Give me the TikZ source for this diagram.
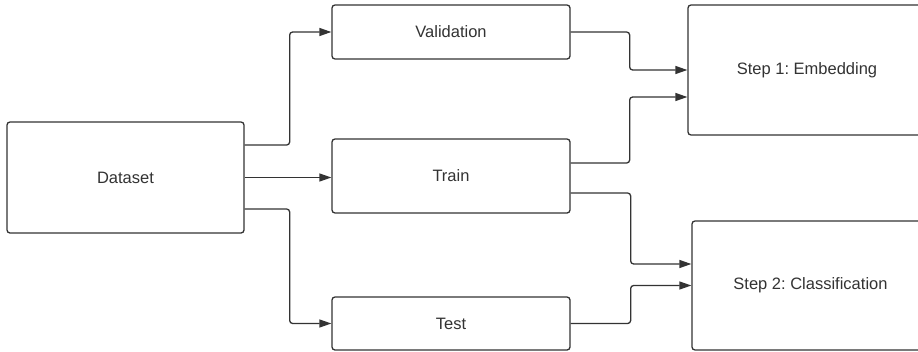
\documentclass[tikz,border=0pt]{standalone}
\usepackage{fontspec}
\setmainfont{Liberation Sans}
\usetikzlibrary{arrows.meta,calc}
\definecolor{linec}{HTML}{333333}
\frenchspacing
\begin{document}
\begin{tikzpicture}[x=1pt,y=-1pt,
  box/.style={draw=linec, line width=1.3pt, rounded corners=3pt, fill=white,
    font=\fontsize{16.5}{19}\selectfont, text=linec, inner sep=0pt},
  conn/.style={draw=linec, line width=1.3pt, rounded corners=3pt,
    -{Triangle[length=12pt,width=8pt]}}]
\clip (0,0) rectangle (918,351);
\useasboundingbox (0,0) rectangle (918,351);
\node[box, minimum width=237pt, minimum height=111pt] (dataset) at (125.5,177.5) {Dataset};
\node[box, minimum width=238pt, minimum height=54pt] (validation) at (451,32) {Validation};
\node[box, minimum width=238pt, minimum height=74pt] (train) at (451,176) {Train};
\node[box, minimum width=238pt, minimum height=53pt] (test) at (451,323.5) {Test};
\node[box, minimum width=238pt, minimum height=130pt] (step1) at (807,70) {Step 1: Embedding};
\node[box, minimum width=237pt, minimum height=129pt] (step2) at (810.5,285.5) {Step 2: Classification};
\draw[conn] ([yshift=32.5pt]dataset.east) -- ++(45,0) |- (validation.west);
\draw[conn] (dataset.east) -- (dataset.east -| train.west);
\draw[conn] ([yshift=-31.5pt]dataset.east) -- ++(45,0) |- (test.west);
\draw[conn] (validation.east) -- ++(59,0) |- (step1.west);
\draw[conn] ([yshift=13pt]train.east) -- ++(59,0) |- ([yshift=-27pt]step1.west);
\draw[conn] ([yshift=-17pt]train.east) -- ++(60,0) |- ([yshift=21.5pt]step2.west);
\draw[conn] (test.east) -- ++(60,0) |- (step2.west);
\end{tikzpicture}
\end{document}
